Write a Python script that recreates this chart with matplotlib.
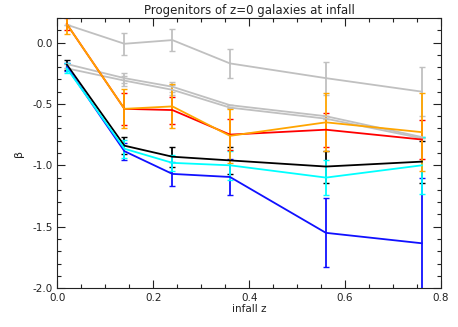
import matplotlib
matplotlib.use("Agg")
import matplotlib.pyplot as plt
from matplotlib.ticker import MultipleLocator, FormatStrFormatter

# infall redshift bins
z_infall = [0.02, 0.14, 0.24, 0.36, 0.56, 0.76]

# gray reference curves
gray_top = [0.145, -0.01, 0.02, -0.17, -0.29, -0.40]
gray_top_err = [0.0, 0.09, 0.09, 0.12, 0.135, 0.2]
gray_mid = [-0.175, -0.29, -0.36, -0.51, -0.60, -0.77]
gray_mid_err = [0.0, 0.04, 0.04, 0.0, 0.0, 0.0]
gray_low = [-0.21, -0.31, -0.385, -0.53, -0.62, -0.78]
gray_low_err = [0.0, 0.04, 0.04, 0.0, 0.0, 0.0]

# coloured samples
black_y = [-0.18, -0.84, -0.93, -0.96, -1.01, -0.97]
black_err = [0.04, 0.07, 0.08, 0.11, 0.13, 0.17]
blue_y = [-0.20, -0.885, -1.07, -1.095, -1.55, -1.635]
blue_err = [0.03, 0.07, 0.10, 0.15, 0.28, 0.53]
cyan_y = [-0.21, -0.865, -0.98, -1.0, -1.10, -1.0]
cyan_err = [0.04, 0.075, 0.065, 0.12, 0.145, 0.23]
red_y = [0.15, -0.54, -0.55, -0.75, -0.71, -0.79]
red_err = [0.05, 0.13, 0.11, 0.125, 0.14, 0.16]
orange_y = [0.15, -0.54, -0.52, -0.76, -0.65, -0.73]
orange_err = [0.08, 0.16, 0.18, 0.22, 0.235, 0.32]

fig = plt.figure(figsize=(4.58, 3.27), dpi=100)
ax = fig.add_axes([0.125, 0.119, 0.838, 0.826])

series = [
    (gray_top, gray_top_err, "#c0c0c0"),
    (gray_mid, gray_mid_err, "#c0c0c0"),
    (gray_low, gray_low_err, "#c0c0c0"),
    (black_y, black_err, "black"),
    (blue_y, blue_err, "#1010ff"),
    (cyan_y, cyan_err, "#00ffff"),
    (red_y, red_err, "#ff0000"),
    (orange_y, orange_err, "#ffa500"),
]
for y, e, c in series:
    ax.errorbar(z_infall, y, yerr=e, color=c, lw=1.3, elinewidth=1.3,
                capsize=2.5, capthick=1.0)

ax.set_xlim(0.0, 0.8)
ax.set_ylim(-2.0, 0.2)
ax.xaxis.set_major_locator(MultipleLocator(0.2))
ax.xaxis.set_minor_locator(MultipleLocator(0.05))
ax.yaxis.set_major_locator(MultipleLocator(0.5))
ax.yaxis.set_minor_locator(MultipleLocator(0.1))
ax.xaxis.set_major_formatter(FormatStrFormatter("%.1f"))
ax.yaxis.set_major_formatter(FormatStrFormatter("%.1f"))
ax.tick_params(which="both", direction="in", top=True, right=True,
               labelsize=7.5, width=0.8, colors="#222222")
ax.tick_params(which="major", length=6)
ax.tick_params(which="minor", length=3)
for s in ax.spines.values():
    s.set_linewidth(0.8)
    s.set_color("#222222")

ax.set_title("Progenitors of z=0 galaxies at infall", fontsize=8.5, pad=3,
             color="#222222")
ax.set_xlabel("infall z", fontsize=7.5, labelpad=1, color="#222222")
ax.set_ylabel("β", fontsize=8, labelpad=6, color="#222222")

fig.savefig("out.png", dpi=100)
